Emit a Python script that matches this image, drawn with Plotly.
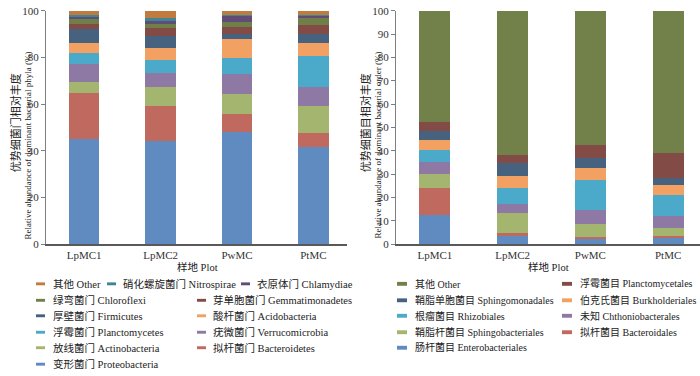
import plotly.graph_objects as go

W, H = 700, 376

plots = ["LpMC1", "LpMC2", "PwMC", "PtMC"]

# ---- Left chart: phyla (bottom -> top) ----
phyla_cn = ["变形菌门", "拟杆菌门", "放线菌门", "疣微菌门", "浮霉菌门", "酸杆菌门",
            "厚壁菌门", "芽单胞菌门", "绿弯菌门", "衣原体门", "硝化螺旋菌门", "其他"]
phyla_en = ["Proteobacteria", "Bacteroidetes", "Actinobacteria", "Verrucomicrobia",
            "Planctomycetes", "Acidobacteria", "Firmicutes", "Gemmatimonadetes",
            "Chloroflexi", "Chlamydiae", "Nitrospirae", "Other"]
proteobacteria = [45.0, 44.1, 48.3, 41.6]
bacteroidetes = [19.7, 15.1, 7.7, 6.3]
actinobacteria = [5.0, 8.4, 8.3, 11.4]
verrucomicrobia = [7.6, 5.8, 8.5, 8.2]
planctomycetes = [4.8, 5.4, 6.9, 13.1]
acidobacteria = [4.4, 5.5, 8.1, 5.6]
firmicutes = [5.8, 4.8, 2.5, 3.8]
gemmatimonadetes = [2.1, 3.5, 2.8, 4.1]
chloroflexi = [2.4, 1.8, 2.3, 3.1]
chlamydiae = [0.8, 1.4, 2.5, 0.7]
nitrospirae = [0.7, 1.1, 0.4, 0.4]
phyla_other = [1.7, 3.1, 1.7, 1.7]
phyla_values = [proteobacteria, bacteroidetes, actinobacteria, verrucomicrobia,
                planctomycetes, acidobacteria, firmicutes, gemmatimonadetes,
                chloroflexi, chlamydiae, nitrospirae, phyla_other]

# ---- Right chart: orders (bottom -> top) ----
order_cn = ["肠杆菌目", "拟杆菌目", "鞘脂杆菌目", "未知", "根瘤菌目", "伯克氏菌目",
            "鞘脂单胞菌目", "浮霉菌目", "其他"]
order_en = ["Enterobacteriales", "Bacteroidales", "Sphingobacteriales",
            "Chthoniobacterales", "Rhizobiales", "Burkholderiales",
            "Sphingomonadales", "Planctomycetales", "Other"]
enterobacteriales = [12.6, 3.7, 2.5, 2.8]
bacteroidales = [11.7, 1.3, 0.7, 0.7]
sphingobacteriales = [5.7, 8.4, 5.4, 3.6]
chthoniobacterales = [5.3, 3.9, 6.3, 5.2]
rhizobiales = [5.1, 6.9, 12.6, 8.9]
burkholderiales = [4.1, 5.1, 5.0, 4.2]
sphingomonadales = [4.0, 5.7, 4.7, 3.2]
planctomycetales = [3.8, 3.3, 5.3, 10.7]
order_other = [47.7, 61.7, 57.5, 60.7]
order_values = [enterobacteriales, bacteroidales, sphingobacteriales,
                chthoniobacterales, rhizobiales, burkholderiales,
                sphingomonadales, planctomycetales, order_other]

# ---- styles ----
phyla_colors = ["#5F8BC0", "#C0695F", "#A4B56F", "#8E79A4", "#4BAACA", "#F2A163",
                "#47627F", "#824B45", "#6F7F47", "#5F4D77", "#3F8598", "#C27B3E"]
order_colors = ["#5F8BC0", "#C0695F", "#A4B56F", "#8E79A4", "#4BAACA", "#F2A163",
                "#47627F", "#824B45", "#72804A"]

FONT = "Liberation Serif, Times New Roman, Noto Sans CJK SC, serif"
TXT = "#222222"

def px(x):
    return x / W

def py(y):
    return 1 - y / H

fig = go.Figure()

for name_cn, name_en, vals, col in zip(phyla_cn, phyla_en, phyla_values, phyla_colors):
    fig.add_trace(go.Bar(x=plots, y=vals, name=f"{name_cn} {name_en}",
                         marker=dict(color=col, line=dict(width=0)),
                         width=0.4, xaxis="x", yaxis="y", showlegend=False))

for name_cn, name_en, vals, col in zip(order_cn, order_en, order_values, order_colors):
    fig.add_trace(go.Bar(x=plots, y=vals, name=f"{name_cn} {name_en}",
                         marker=dict(color=col, line=dict(width=0)),
                         width=0.4, xaxis="x2", yaxis="y2", showlegend=False))

ydom = [py(246), py(5)]
axis_common = dict(showline=True, linecolor="#7f7f7f", linewidth=1, showgrid=False,
                   zeroline=False, ticklabeloverflow="allow",
                   tickfont=dict(family=FONT, size=11, color="#333333"))
fig.update_layout(
    width=W, height=H, margin=dict(l=0, r=0, t=0, b=0),
    paper_bgcolor="white", plot_bgcolor="white", barmode="stack", bargap=0,
    xaxis=dict(domain=[px(46), px(347)], range=[-0.5, 3.44], type="category",
               ticks="", **axis_common),
    yaxis=dict(domain=ydom, range=[0, 100], dtick=20, ticks="outside", ticklen=4,
               tickcolor="#7f7f7f", anchor="x", **axis_common),
    xaxis2=dict(domain=[px(396), 1.0], range=[-0.5, 3.41], type="category",
                ticks="", anchor="y2", **axis_common),
    yaxis2=dict(domain=ydom, range=[0, 100], dtick=10, ticks="outside", ticklen=4,
                tickcolor="#7f7f7f", anchor="x2", **axis_common),
)
fig.update_xaxes(linecolor="#595959", linewidth=1.5)

annotations = []
shapes = []

def text_ann(x, y, text, size=10.5, angle=0, xanchor="center"):
    annotations.append(dict(xref="paper", yref="paper", x=px(x), y=py(y), text=text,
                            showarrow=False, textangle=angle, xanchor=xanchor,
                            yanchor="middle",
                            font=dict(family=FONT, size=size, color=TXT)))

# axis titles
text_ann(15, 121, "优势细菌门相对丰度", size=11, angle=-90)
text_ann(28, 144, "Relative abundance of dominant bacterial phyla (%)", size=9, angle=-90)
text_ann(365, 121, "优势细菌目相对丰度", size=11, angle=-90)
text_ann(378, 144, "Relative abundance of dominant bacterial order (%)", size=9, angle=-90)
text_ann(197, 270, "样地 Plot", size=10.5)
text_ann(548, 270, "样地 Plot", size=10.5)

# legends (Excel-like layout)
rows = [287, 304, 320, 337, 353, 370]
left_slots = [(36, 51, 0), (107, 121, 0), (241, 255, 0),
              (36, 51, 1), (197, 211, 1),
              (36, 51, 2), (197, 211, 2),
              (36, 51, 3), (197, 211, 3),
              (36, 51, 4), (197, 211, 4),
              (36, 51, 5)]
for i, (sx, tx, r) in enumerate(left_slots):
    k = len(phyla_cn) - 1 - i
    y = rows[r]
    shapes.append(dict(type="rect", xref="paper", yref="paper",
                       x0=px(sx), x1=px(sx + 9), y0=py(y + 1.5), y1=py(y - 1.5),
                       fillcolor=phyla_colors[k], line=dict(width=0)))
    text_ann(tx, y, f"{phyla_cn[k]} {phyla_en[k]}", xanchor="left")

right_slots = [(397, 413, 0), (562, 578, 0),
               (397, 413, 1), (562, 578, 1),
               (397, 413, 2), (562, 578, 2),
               (397, 413, 3), (562, 578, 3),
               (397, 413, 4)]
for i, (sx, tx, r) in enumerate(right_slots):
    k = len(order_cn) - 1 - i
    y = rows[r]
    shapes.append(dict(type="rect", xref="paper", yref="paper",
                       x0=px(sx), x1=px(sx + 10), y0=py(y + 2), y1=py(y - 2),
                       fillcolor=order_colors[k], line=dict(width=0)))
    text_ann(tx, y, f"{order_cn[k]} {order_en[k]}", size=10, xanchor="left")

fig.update_layout(annotations=annotations, shapes=shapes)
fig.write_html("out.html", config={"displayModeBar": False},
               post_script="document.body.style.margin='0';document.body.style.padding='0';")
